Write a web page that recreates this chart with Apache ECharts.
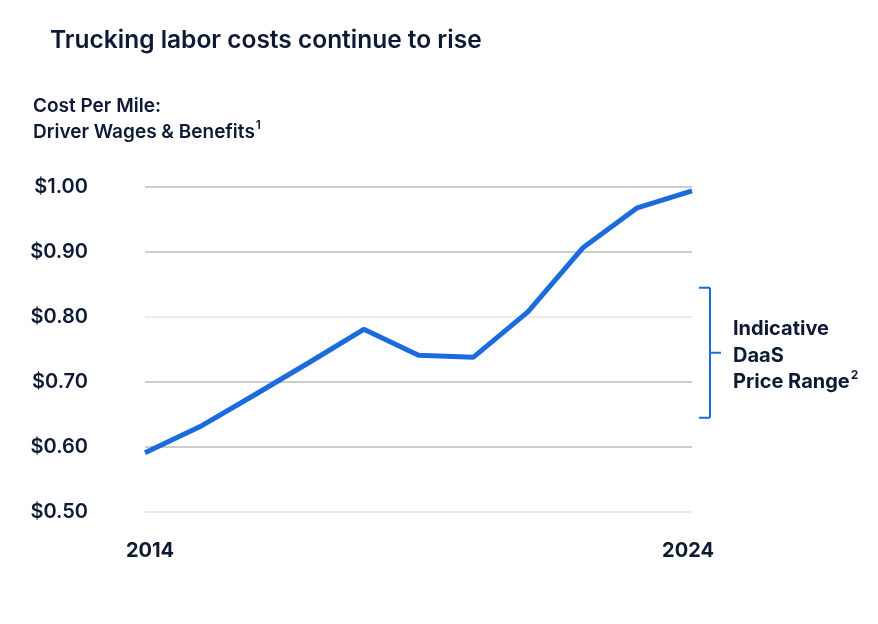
<!DOCTYPE html>
<html>
<head>
    <meta charset="utf-8">
    <title>Trucking labor costs</title>
    <script src="https://cdn.jsdelivr.net/npm/echarts@6/dist/echarts.min.js"></script>
    <style>
        html, body { margin: 0; padding: 0; background: #ffffff; }
        #chart { width: 878px; height: 624px; }
    </style>
</head>
<body>
<div id="chart"></div>
<script>
    // data
    var years = ['2014', '2015', '2016', '2017', '2018', '2019', '2020', '2021', '2022', '2023', '2024'];
    var costPerMile = [0.591, 0.631, 0.68, 0.73, 0.781, 0.741, 0.738, 0.808, 0.906, 0.968, 0.994];
    var priceRange = [0.645, 0.845];   // indicative DaaS range (bracket)
    var yTicks = [0.5, 0.6, 0.7, 0.8, 0.9, 1.0];

    var navy = '#0d1a33';
    var blue = '#1b6bdc';
    var font = 'Inter';

    var chart = echarts.init(document.getElementById('chart'));

    var option = {
        backgroundColor: '#ffffff',
        animation: false,
        title: [
            {
                text: 'Trucking labor costs continue to rise',
                left: 45,
                top: 23,
                textStyle: { fontFamily: font, fontSize: 24.5, fontWeight: 600, color: navy }
            },
            {
                text: 'Cost Per Mile:\nDriver Wages & Benefits{sup|1}',
                left: 28,
                top: 88,
                textStyle: {
                    fontFamily: font, fontSize: 19, fontWeight: 600, color: navy, lineHeight: 26,
                    rich: {
                        sup: { fontFamily: font, fontSize: 12, fontWeight: 600, color: navy, verticalAlign: 'top', lineHeight: 14, padding: [0, 0, 10, 1] }
                    }
                }
            }
        ],
        grid: { left: 145, right: 186, top: 187, bottom: 112 },
        xAxis: {
            type: 'category',
            data: years,
            boundaryGap: false,
            axisLine: { show: false },
            axisTick: { show: false },
            axisLabel: {
                margin: 29,
                fontFamily: font, fontSize: 20, fontWeight: 700, color: navy,
                interval: function (i) { return i === 0 || i === years.length - 1; },
                formatter: function (v, i) {
                    return i === 0 ? '{first|' + v + '}' : '{last|' + v + '}';
                },
                rich: {
                    first: { fontFamily: font, fontSize: 20, fontWeight: 700, color: navy, padding: [0, 0, 0, 10] },
                    last: { fontFamily: font, fontSize: 20, fontWeight: 700, color: navy, padding: [0, 8, 0, 0] }
                }
            },
            splitLine: { show: false }
        },
        yAxis: {
            type: 'value',
            min: yTicks[0],
            max: yTicks[yTicks.length - 1],
            interval: 0.1,
            axisLine: { show: false },
            axisTick: { show: false },
            axisLabel: {
                margin: 57,
                fontFamily: font, fontSize: 20, fontWeight: 600, color: navy,
                formatter: function (v) { return '$' + v.toFixed(2); }
            },
            splitLine: { lineStyle: { color: ['#e4e4e4', '#bcbcbc', '#bcbcbc'], width: 1.5 } }
        },
        series: [
            {
                type: 'line',
                data: costPerMile,
                symbol: 'none',
                lineStyle: { color: blue, width: 5 },
                z: 3
            },
            {
                type: 'custom',
                clip: false,
                data: [[years.length - 1, priceRange[0], priceRange[1]]],
                renderItem: function (params, api) {
                    var lo = api.coord([api.value(0), api.value(1)]);
                    var hi = api.coord([api.value(0), api.value(2)]);
                    var x = lo[0] + 18;
                    var mid = (lo[1] + hi[1]) / 2;
                    var ls = { stroke: blue, lineWidth: 2 };
                    return {
                        type: 'group',
                        children: [
                            { type: 'line', shape: { x1: x, y1: hi[1], x2: x, y2: lo[1] }, style: ls },
                            { type: 'line', shape: { x1: x - 11, y1: hi[1], x2: x, y2: hi[1] }, style: ls },
                            { type: 'line', shape: { x1: x - 11, y1: lo[1], x2: x, y2: lo[1] }, style: ls },
                            { type: 'line', shape: { x1: x, y1: mid, x2: x + 11, y2: mid }, style: ls },
                            {
                                type: 'text',
                                x: x + 23,
                                y: mid + 3,
                                style: {
                                    text: 'Indicative\nDaaS\nPrice Range{sup|2}',
                                    fontFamily: font, fontSize: 20, fontWeight: 700, fill: navy,
                                    lineHeight: 26.5,
                                    verticalAlign: 'middle',
                                    rich: {
                                        sup: { fontFamily: font, fontSize: 12, fontWeight: 700, fill: navy, verticalAlign: 'top', lineHeight: 14, padding: [0, 0, 10, 1] }
                                    }
                                }
                            }
                        ]
                    };
                }
            }
        ]
    };
    chart.setOption(option);
</script>
</body>
</html>
